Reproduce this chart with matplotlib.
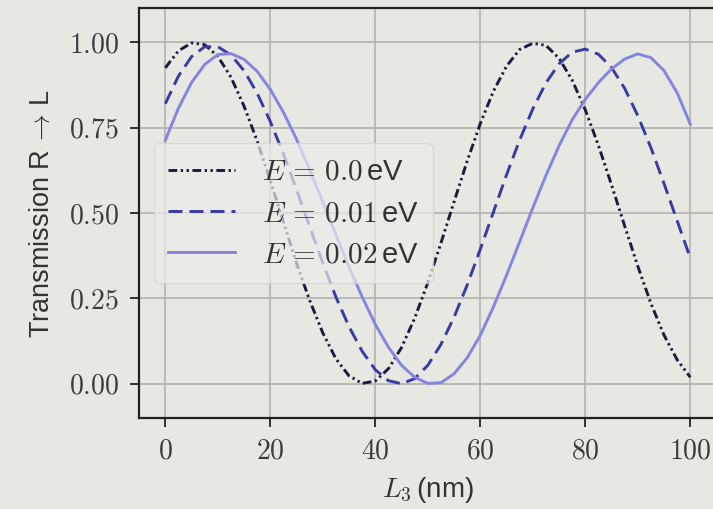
import numpy as np
import matplotlib
matplotlib.use('Agg')
import matplotlib.pyplot as plt
from matplotlib.ticker import FuncFormatter

plt.rcParams['mathtext.fontset'] = 'cm'
plt.rcParams['font.family'] = ['Liberation Sans', 'DejaVu Sans']

# L3 sample positions (nm)
L3 = np.arange(0, 100.1, 2.5)

# transmission R -> L
T_00 = [0.925, 0.975, 0.998, 0.993, 0.959, 0.898, 0.813, 0.711, 0.595, 0.474,
        0.353, 0.244, 0.149, 0.073, 0.023, 0.001, 0.008, 0.044, 0.106, 0.192,
        0.296, 0.412, 0.533, 0.652, 0.762, 0.857, 0.930, 0.979, 0.997, 0.991,
        0.953, 0.889, 0.802, 0.698, 0.582, 0.462, 0.344, 0.235, 0.142, 0.070,
        0.019]
T_01 = [0.820, 0.901, 0.958, 0.987, 0.987, 0.963, 0.917, 0.851, 0.768, 0.673,
        0.568, 0.460, 0.354, 0.254, 0.167, 0.095, 0.041, 0.009, 0.000, 0.015,
        0.054, 0.115, 0.195, 0.289, 0.394, 0.503, 0.612, 0.714, 0.805, 0.881,
        0.937, 0.971, 0.980, 0.965, 0.926, 0.865, 0.785, 0.691, 0.586, 0.477,
        0.368]
T_02 = [0.713, 0.807, 0.882, 0.935, 0.964, 0.967, 0.950, 0.915, 0.862, 0.795,
        0.716, 0.627, 0.532, 0.436, 0.342, 0.254, 0.174, 0.107, 0.054, 0.019,
        0.001, 0.003, 0.029, 0.076, 0.142, 0.225, 0.318, 0.416, 0.515, 0.610,
        0.697, 0.773, 0.833, 0.882, 0.922, 0.951, 0.966, 0.955, 0.917, 0.852,
        0.760]

labels = [r'$E\,=\,0.0\,$eV', r'$E\,=\,0.01\,$eV', r'$E\,=\,0.02\,$eV']
colors = ['#1b1b40', '#3a3aa6', '#8585e0']
styles = [(0, (3, 1.2, 0.8, 1.2, 0.8, 1.2)), (0, (4.8, 2.4)), '-']

bg = '#e8e8e3'
fig = plt.figure(figsize=(7.13, 5.09), dpi=100, facecolor=bg)
ax = fig.add_axes([0.195, 0.179, 0.810, 0.805], facecolor=bg)

for T, lab, c, ls in zip([T_00, T_01, T_02], labels, colors, styles):
    ax.plot(L3, T, color=c, ls=ls, lw=2.1, label=lab)

ax.set_xlim(-5, 105)
ax.set_ylim(-0.1, 1.1)
ax.set_xticks([0, 20, 40, 60, 80, 100])
ax.set_yticks([0.0, 0.25, 0.5, 0.75, 1.0])
ax.xaxis.set_major_formatter(FuncFormatter(lambda v, p: r'$%d$' % v))
ax.yaxis.set_major_formatter(FuncFormatter(lambda v, p: r'$%.2f$' % v))
ax.tick_params(labelsize=20, length=6.5, width=1.3, color='#222222',
               labelcolor='#3a3a3a', pad=8)
ax.grid(True, color='#b2b2b2', lw=1.2)
ax.set_axisbelow(True)
for s in ax.spines.values():
    s.set_color('#222222')
    s.set_linewidth(1.6)

ax.set_xlabel(r'$L_3\,$(nm)', fontsize=20, color='#333333', labelpad=8)
ax.set_ylabel(r'Transmission R$\,\rightarrow\,$L', fontsize=19.5,
              color='#333333', labelpad=10)

leg = ax.legend(loc='center left', fontsize=21, handlelength=2.3,
                handletextpad=0.9, labelspacing=0.45, borderpad=0.5,
                framealpha=0.7, facecolor='#ececea', edgecolor='#d4d4d0',
                borderaxespad=0.5)
for t in leg.get_texts():
    t.set_color('#333333')

fig.savefig('out.png', dpi=100, facecolor=bg)
